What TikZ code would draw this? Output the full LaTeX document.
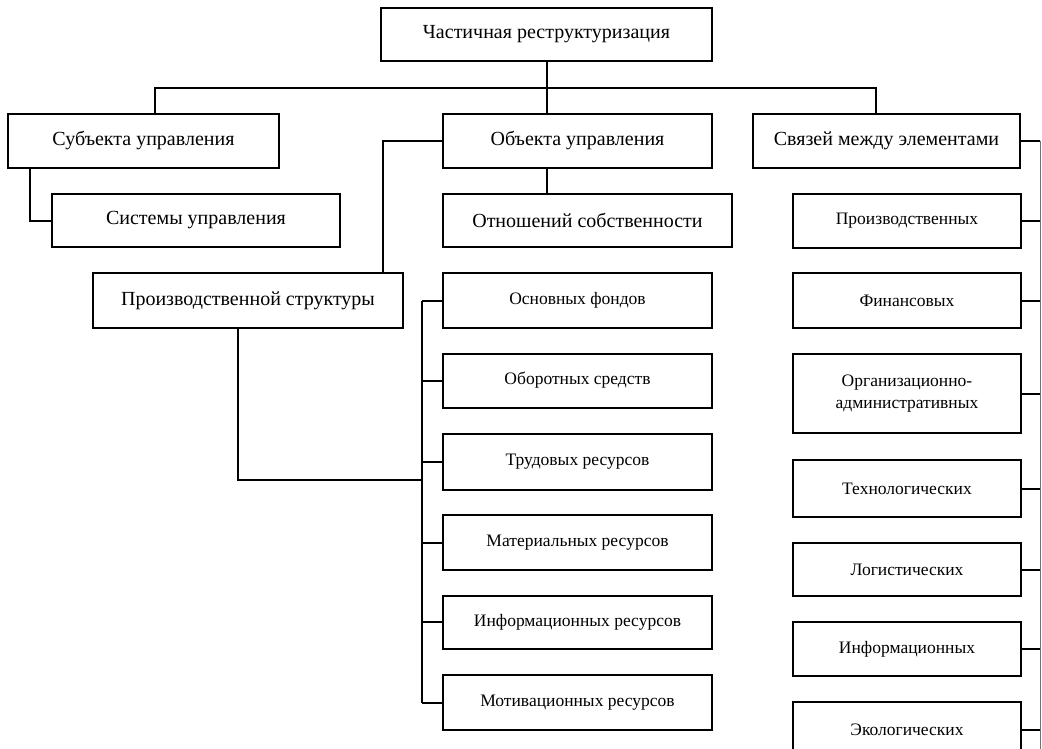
\documentclass[tikz,border=0pt]{standalone}
\usepackage{fontspec}
\setmainfont{Liberation Serif}
\usepackage{tikz}
\usetikzlibrary{calc}

\begin{document}
\begin{tikzpicture}[x=1pt, y=-1pt, font=\fontsize{20}{22}\selectfont,
		box/.style 2 args={draw, line width=2pt, inner sep=2pt, align=center, minimum width=#1, minimum height=#2},
		small/.style={font=\fontsize{17.5}{22}\selectfont},
		link/.style={line width=2pt},
		rail/.style={line width=1pt, draw=black!55}]
		\useasboundingbox (0,0) rectangle (1042,749);
		\clip (0,0) rectangle (1042,749);
		% top and second level
		\node[box={331pt}{53pt}] (top) at (546.5,34.5) {Частичная реструктуризация};
		\node[box={271pt}{54pt}] (sub) at (143.5,141) {Субъекта управления};
		\node[box={269pt}{54pt}] (obj) at (577.5,141) {Объекта управления};
		\node[box={267pt}{54pt}] (svz) at (886.5,141) {Связей между элементами};
		\node[box={288pt}{53pt}] (sys) at (196,220.5) {Системы управления};
		\node[box={289pt}{53pt}] (own) at (587.5,220.5) {Отношений собственности};
		\node[box={310pt}{55pt}] (prs) at (248,300.5) {Производственной структуры};
		% resources column
		\node[box={269pt}{55pt}, small] (f1) at (577.5,300.5) {Основных фондов};
		\node[box={269pt}{54pt}, small] (f2) at (577.5,380.5) {Оборотных средств};
		\node[box={269pt}{56pt}, small] (f3) at (577.5,461.5) {Трудовых ресурсов};
		\node[box={269pt}{55pt}, small] (f4) at (577.5,542.5) {Материальных ресурсов};
		\node[box={269pt}{53pt}, small] (f5) at (577.5,622) {Информационных ресурсов};
		\node[box={269pt}{55pt}, small] (f6) at (577.5,702.5) {Мотивационных ресурсов};
		% links column
		\node[box={228pt}{53pt}, small] (r1) at (907,221) {Производственных};
		\node[box={228pt}{55pt}, small] (r2) at (907,300.5) {Финансовых};
		\node[box={228pt}{79pt}, small] (r3) at (907,393.5) {Организационно-\\административных};
		\node[box={228pt}{57pt}, small] (r4) at (907,488.5) {Технологических};
		\node[box={228pt}{53pt}, small] (r5) at (907,569.5) {Логистических};
		\node[box={228pt}{54pt}, small] (r6) at (907,649) {Информационных};
		\node[box={228pt}{55pt}, small] (r7) at (907,729.5) {Экологических};
		\coordinate (hubL) at (155,88);
		\coordinate (hubR) at (876,88);
		\coordinate (knee) at (30,220.5);
		\coordinate (join) at (423,480);
		\coordinate (rTop) at (1040,141);
		\coordinate (rEnd) at (1040,749);
		\path (prs.north east) ++(-21,0) coordinate (prsIn);
		\draw[link] (top.south) -- (top.south |- obj.north);
		\draw[link] (hubL |- sub.north) -- (hubL) -- (hubR) -- (hubR |- svz.north);
		\draw[link] (knee |- sub.south) |- (sys.west);
		\draw[link] (top.south |- obj.south) -- (top.south |- own.north);
		\draw[link] (obj.west) -| (prsIn);
		\draw[link] ([xshift=-10pt]prs.south) |- (join);
		% left rail of the resources
		\draw[link] ([xshift=-20pt]f1.west) -- ([xshift=-20pt]f6.west);
		\foreach \n in {f1,f2,f3,f4,f5,f6}
			\draw[link] (\n.west) -- ++(-20,0);
		% right rail of the links
		\draw[link] (svz.east) -- (rTop);
		\draw[rail] (rTop) -- (rEnd);
		\foreach \n in {r1,r2,r3,r4,r5,r6,r7}
			\draw[link] (\n.east) -- (\n.east -| rTop);
	\end{tikzpicture}
\end{document}
